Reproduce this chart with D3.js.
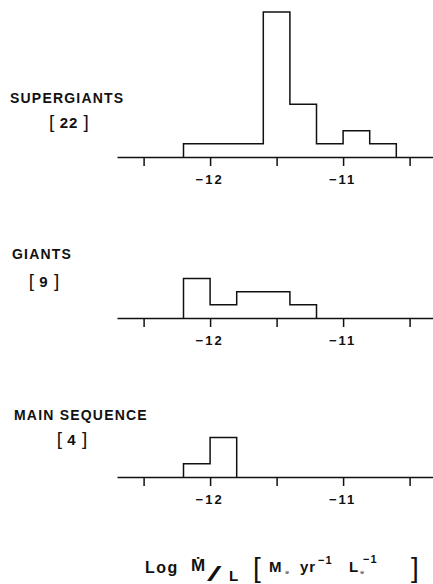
<!DOCTYPE html>
<html>
<head>
<meta charset="utf-8">
<script src="https://cdn.jsdelivr.net/npm/d3@7"></script>
<style>
  html, body { margin: 0; padding: 0; background: #fff; }
  svg { display: block; }
  text { font-family: "Liberation Sans", Arial, "DejaVu Sans", sans-serif; fill: #111; }
</style>
</head>
<body>
<div id="chart"></div>
<script>
// histogram bins in log(Mdot/L), 0.2 dex wide
const binEdges = [-12.2, -12.0, -11.8, -11.6, -11.4, -11.2, -11.0, -10.8, -10.6];
const supergiantCounts = [1, 1, 1, 11, 4, 1, 2, 1];
const giantCounts = [3, 1, 2, 2, 1, 0, 0, 0];
const mainSequenceCounts = [1, 3, 0, 0, 0, 0, 0, 0];

const panelNames = ['SUPERGIANTS', 'GIANTS', 'MAIN SEQUENCE'];
const panelTotals = [22, 9, 4];
const panelCounts = [supergiantCounts, giantCounts, mainSequenceCounts];

const tickValues = [-12.5, -12, -11.5, -11, -10.5];
const tickLabels = {'-12': '\u221212', '-11': '\u221211'};

const width = 433;
const height = 584;

// where each panel sits on the page
const panelLayout = [
  {base: 157, nameX: 10, nameY: 103, totalX: 69, totalY: 128},
  {base: 318, nameX: 12, nameY: 259, totalX: 44, totalY: 287},
  {base: 477, nameX: 14, nameY: 420, totalX: 72, totalY: 445},
];

const svg = d3.select('#chart').append('svg')
  .attr('width', width)
  .attr('height', height);

const x = d3.scaleLinear().domain([-12.7, -10.3]).range([117, 436.2]);
const yHeight = d3.scaleLinear().domain([0, 11]).range([0, 145]);

const appendAxis = (g) => {
  const axis = d3.axisBottom(x)
    .tickValues(tickValues)
    .tickSize(9)
    .tickSizeOuter(0)
    .tickPadding(9)
    .tickFormat((d) => tickLabels[String(d)] || '');

  g.call(axis);
  g.select('.domain').attr('stroke', '#111').attr('stroke-width', 1.6);
  g.selectAll('.tick line').attr('stroke', '#111').attr('stroke-width', 1.5);
  g.selectAll('.tick text')
    .attr('fill', '#111')
    .attr('dx', '-1px')
    .style('font-size', '13px')
    .style('font-weight', 'bold')
    .style('letter-spacing', '2px');
};

const appendHistogram = (g, counts) => {
  // trim empty bins at the right end
  let last = counts.length - 1;
  while (last > 0 && counts[last] === 0) last--;

  const pts = [[binEdges[0], 0]];
  for (let i = 0; i <= last; i++) pts.push([binEdges[i], counts[i]]);
  pts.push([binEdges[last + 1], 0]);

  const line = d3.line()
    .x((d) => x(d[0]))
    .y((d) => -yHeight(d[1]))
    .curve(d3.curveStepAfter);

  g.append('path')
    .attr('d', line(pts))
    .attr('fill', 'none')
    .attr('stroke', '#111')
    .attr('stroke-width', 1.5);
};

panelCounts.forEach((counts, i) => {
  const lay = panelLayout[i];
  const g = svg.append('g').attr('transform', `translate(0,${lay.base})`);

  appendAxis(g);
  appendHistogram(g, counts);

  svg.append('text')
    .attr('x', lay.nameX)
    .attr('y', lay.nameY)
    .style('font-size', '14px')
    .style('font-weight', 'bold')
    .style('letter-spacing', '1.2px')
    .text(panelNames[i]);

  const total = svg.append('text')
    .attr('x', lay.totalX)
    .attr('y', lay.totalY)
    .attr('text-anchor', 'middle');
  total.append('tspan').style('font-size', '19px').style('font-weight', 'normal').text('[ ');
  total.append('tspan').style('font-size', '15px').style('font-weight', 'bold').style('letter-spacing', '1px').text(panelTotals[i]);
  total.append('tspan').style('font-size', '19px').style('font-weight', 'normal').text(' ]');
});

// x axis title: Log Mdot/L [Msun yr^-1 L^-1]
const title = svg.append('g').style('font-weight', 'bold');

title.append('text').attr('x', 145).attr('y', 573)
  .style('font-size', '16px').style('letter-spacing', '1.5px').text('Log');
title.append('text').attr('x', 191).attr('y', 571)
  .style('font-size', '17px').text('\u1E40');
title.append('text').attr('transform', 'translate(207,581) scale(2.6,1)')
  .style('font-size', '20px').style('font-weight', 'normal').text('/');
title.append('text').attr('x', 229).attr('y', 581)
  .style('font-size', '15px').text('L');

title.append('text').attr('x', 253).attr('y', 577)
  .style('font-size', '28px').style('font-weight', 'normal').text('[');
const unit = title.append('text').attr('y', 572).style('font-size', '15px');
unit.append('tspan').attr('x', 269).text('M');
unit.append('tspan').attr('x', 285).attr('y', 574).style('font-size', '5px').text('\u2299');
unit.append('tspan').attr('x', 300).attr('y', 572).style('letter-spacing', '1px').text('yr');
unit.append('tspan').attr('x', 318).attr('y', 564).style('font-size', '11px').style('letter-spacing', '1px').text('\u22121');
unit.append('tspan').attr('x', 349).attr('y', 572).text('L');
unit.append('tspan').attr('x', 360).attr('y', 574).style('font-size', '5px').text('\u2299');
unit.append('tspan').attr('x', 363).attr('y', 563).style('font-size', '11px').style('letter-spacing', '1px').text('\u22121');
title.append('text').attr('x', 411).attr('y', 577)
  .style('font-size', '28px').style('font-weight', 'normal').text(']');
</script>
</body>
</html>
